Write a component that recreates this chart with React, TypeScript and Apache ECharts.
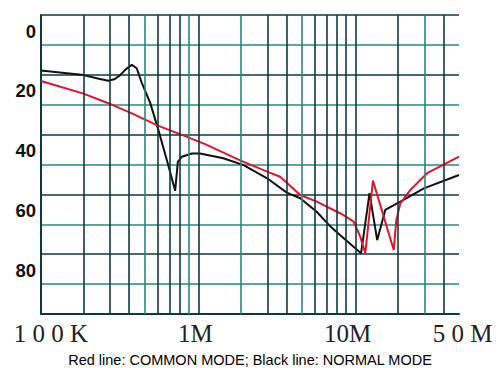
import React, { useEffect, useRef } from "react";
import * as echarts from "echarts";

// Frequencies in MHz, attenuation in dB (axis shows increasing downward)
const blackFreq = [0.1, 0.2, 0.2625, 0.294, 0.326, 0.352, 0.382, 0.415, 0.448, 0.482, 0.546, 0.612, 0.678, 0.753, 0.779, 0.821, 0.931, 1.04, 1.59, 2.11, 3.0, 4.0, 4.9, 6.2, 7.3, 8.3, 11.3, 13.3, 15.1, 17.0, 20.9, 29.8, 50];
const blackDb = [18.6, 20.1, 21.4, 22.0, 21.4, 20.1, 18.1, 16.7, 17.8, 22.7, 29.4, 38.5, 48.5, 58.8, 49.1, 47.4, 46.3, 46.3, 47.9, 50.2, 54.6, 59.4, 61.3, 65.8, 70.6, 73.6, 79.7, 59.6, 75.3, 65.2, 62.4, 58.0, 53.5];

const redFreq = [0.1, 0.2, 0.294, 0.415, 0.612, 0.821, 1.16, 2.0, 3.0, 3.66, 4.0, 4.9, 6.2, 8.3, 9.1, 9.8, 11.1, 12.3, 14.1, 19.0, 19.6, 20.9, 24.7, 31.4, 50];
const redDb = [22.1, 26.3, 29.5, 32.9, 37.1, 40.1, 43.2, 48.7, 52.4, 54.1, 56.1, 60.2, 62.4, 66.3, 67.7, 69.1, 74.1, 79.7, 55.4, 78.6, 68.6, 63.0, 58.5, 52.9, 47.4];

const gridFreqs = [0.2, 0.3, 0.4, 0.5, 0.6, 0.7, 0.8, 0.9, 1, 2, 3, 4, 5, 6, 7, 8, 9, 10, 20, 30, 40, 50];
const xTickFreqs = [0.1, 1, 10, 50];
const xTickLabels = ["1 0 0 K", "1M", "10M", "5 0 M"];
const yLabelValues = [0, 20, 40, 60, 80];
const caption = "Red line: COMMON MODE; Black line: NORMAL MODE";

// The sheet's frequency scale: per-decade position of multiples 1..10
const DECADE_WARP = [0, 0.27, 0.438, 0.563, 0.658, 0.737, 0.818, 0.884, 0.941, 1];
function fToU(fMHz: number): number {
  const r = fMHz / 0.1;
  const d = Math.floor(Math.log10(r) + 1e-9);
  const m = r / Math.pow(10, d);
  const i = Math.min(Math.max(Math.floor(m), 1), 9);
  return d + DECADE_WARP[i - 1] + (DECADE_WARP[i] - DECADE_WARP[i - 1]) * (m - i);
}

const DARK = "#0f3a38";
const TEAL = "#2c857f";

export default function App() {
  const ref = useRef<HTMLDivElement>(null);
  useEffect(() => {
    if (!ref.current) return;
    const chart = echarts.init(ref.current, null, { renderer: "svg" });
    const xMax = fToU(50);
    const tickU = xTickFreqs.map(fToU);
    const labelFor = (v: number) => {
      let best = 0;
      tickU.forEach((u, i) => {
        if (Math.abs(u - v) < Math.abs(tickU[best] - v)) best = i;
      });
      if (Math.abs(tickU[best] - v) > 0.01) return "";
      return "{t" + best + "|" + xTickLabels[best] + "}";
    };
    const xFont = { fontFamily: "Liberation Serif", fontSize: 25, color: "#222" };
    chart.setOption({
      animation: false,
      title: {
        text: caption,
        left: "center",
        top: 352,
        padding: 0,
        textStyle: { fontFamily: "Liberation Sans", fontSize: 14.5, fontWeight: "normal", color: "#000" },
      },
      grid: { left: 41, right: 41, top: 15, bottom: 54, containLabel: false },
      xAxis: {
        type: "value",
        min: 0,
        max: xMax,
        interval: 1,
        axisLine: { show: true, onZero: false, lineStyle: { color: DARK, width: 2 } },
        axisTick: { show: false },
        splitLine: { show: false },
        axisLabel: {
          show: true,
          margin: 7,
          customValues: tickU,
          showMinLabel: true,
          showMaxLabel: true,
          formatter: labelFor,
          ...xFont,
          rich: {
            t0: { ...xFont, padding: [0, 0, 0, 20] },
            t1: { ...xFont, padding: [0, 6, 0, 0] },
            t2: { ...xFont, padding: [0, 16, 0, 0] },
            t3: { ...xFont, padding: [0, 0, 0, 7] },
          },
        },
      },
      yAxis: {
        type: "value",
        inverse: true,
        min: 0,
        max: 100,
        interval: 10,
        axisLine: { show: true, onZero: false, lineStyle: { color: DARK, width: 2 } },
        axisTick: { show: false },
        splitLine: { show: true, lineStyle: { color: [DARK, TEAL], width: 1.6 } },
        axisLabel: {
          margin: 5,
          fontFamily: "Liberation Sans",
          fontWeight: "bold",
          fontSize: 18.5,
          color: "#111",
          verticalAlign: "top",
          lineHeight: 32,
          formatter: (v: number) => (yLabelValues.indexOf(v) >= 0 ? String(v) : ""),
        },
      },
      series: [
        {
          type: "line",
          data: [],
          silent: true,
          z: 1,
          markLine: {
            silent: true,
            symbol: ["none", "none"],
            label: { show: false },
            animation: false,
            lineStyle: { type: "solid", color: DARK, width: 1.6 },
            emphasis: { disabled: true },
            data: gridFreqs.map((f) => ({
              xAxis: fToU(f),
              lineStyle: { type: "solid", color: f === 50 ? DARK : f === 5 || f === 0.5 || f === 0.9 || f === 2 || f === 30 ? TEAL : DARK, width: f === 50 ? 2 : 1.6 },
            })),
          },
        },
        {
          name: "NORMAL MODE",
          type: "line",
          z: 3,
          showSymbol: false,
          symbol: "none",
          smooth: false,
          lineStyle: { color: "#111", width: 2 },
          data: blackFreq.map((f, i) => [fToU(f), blackDb[i]]),
        },
        {
          name: "COMMON MODE",
          type: "line",
          z: 4,
          showSymbol: false,
          symbol: "none",
          smooth: false,
          lineStyle: { color: "#e0142c", width: 2 },
          data: redFreq.map((f, i) => [fToU(f), redDb[i]]),
        },
      ],
    });
    return () => chart.dispose();
  }, []);
  return (
    <div
      ref={ref}
      style={{ position: "fixed", left: 0, top: 0, width: 500, height: 368, background: "#fff" }}
    />
  );
}
